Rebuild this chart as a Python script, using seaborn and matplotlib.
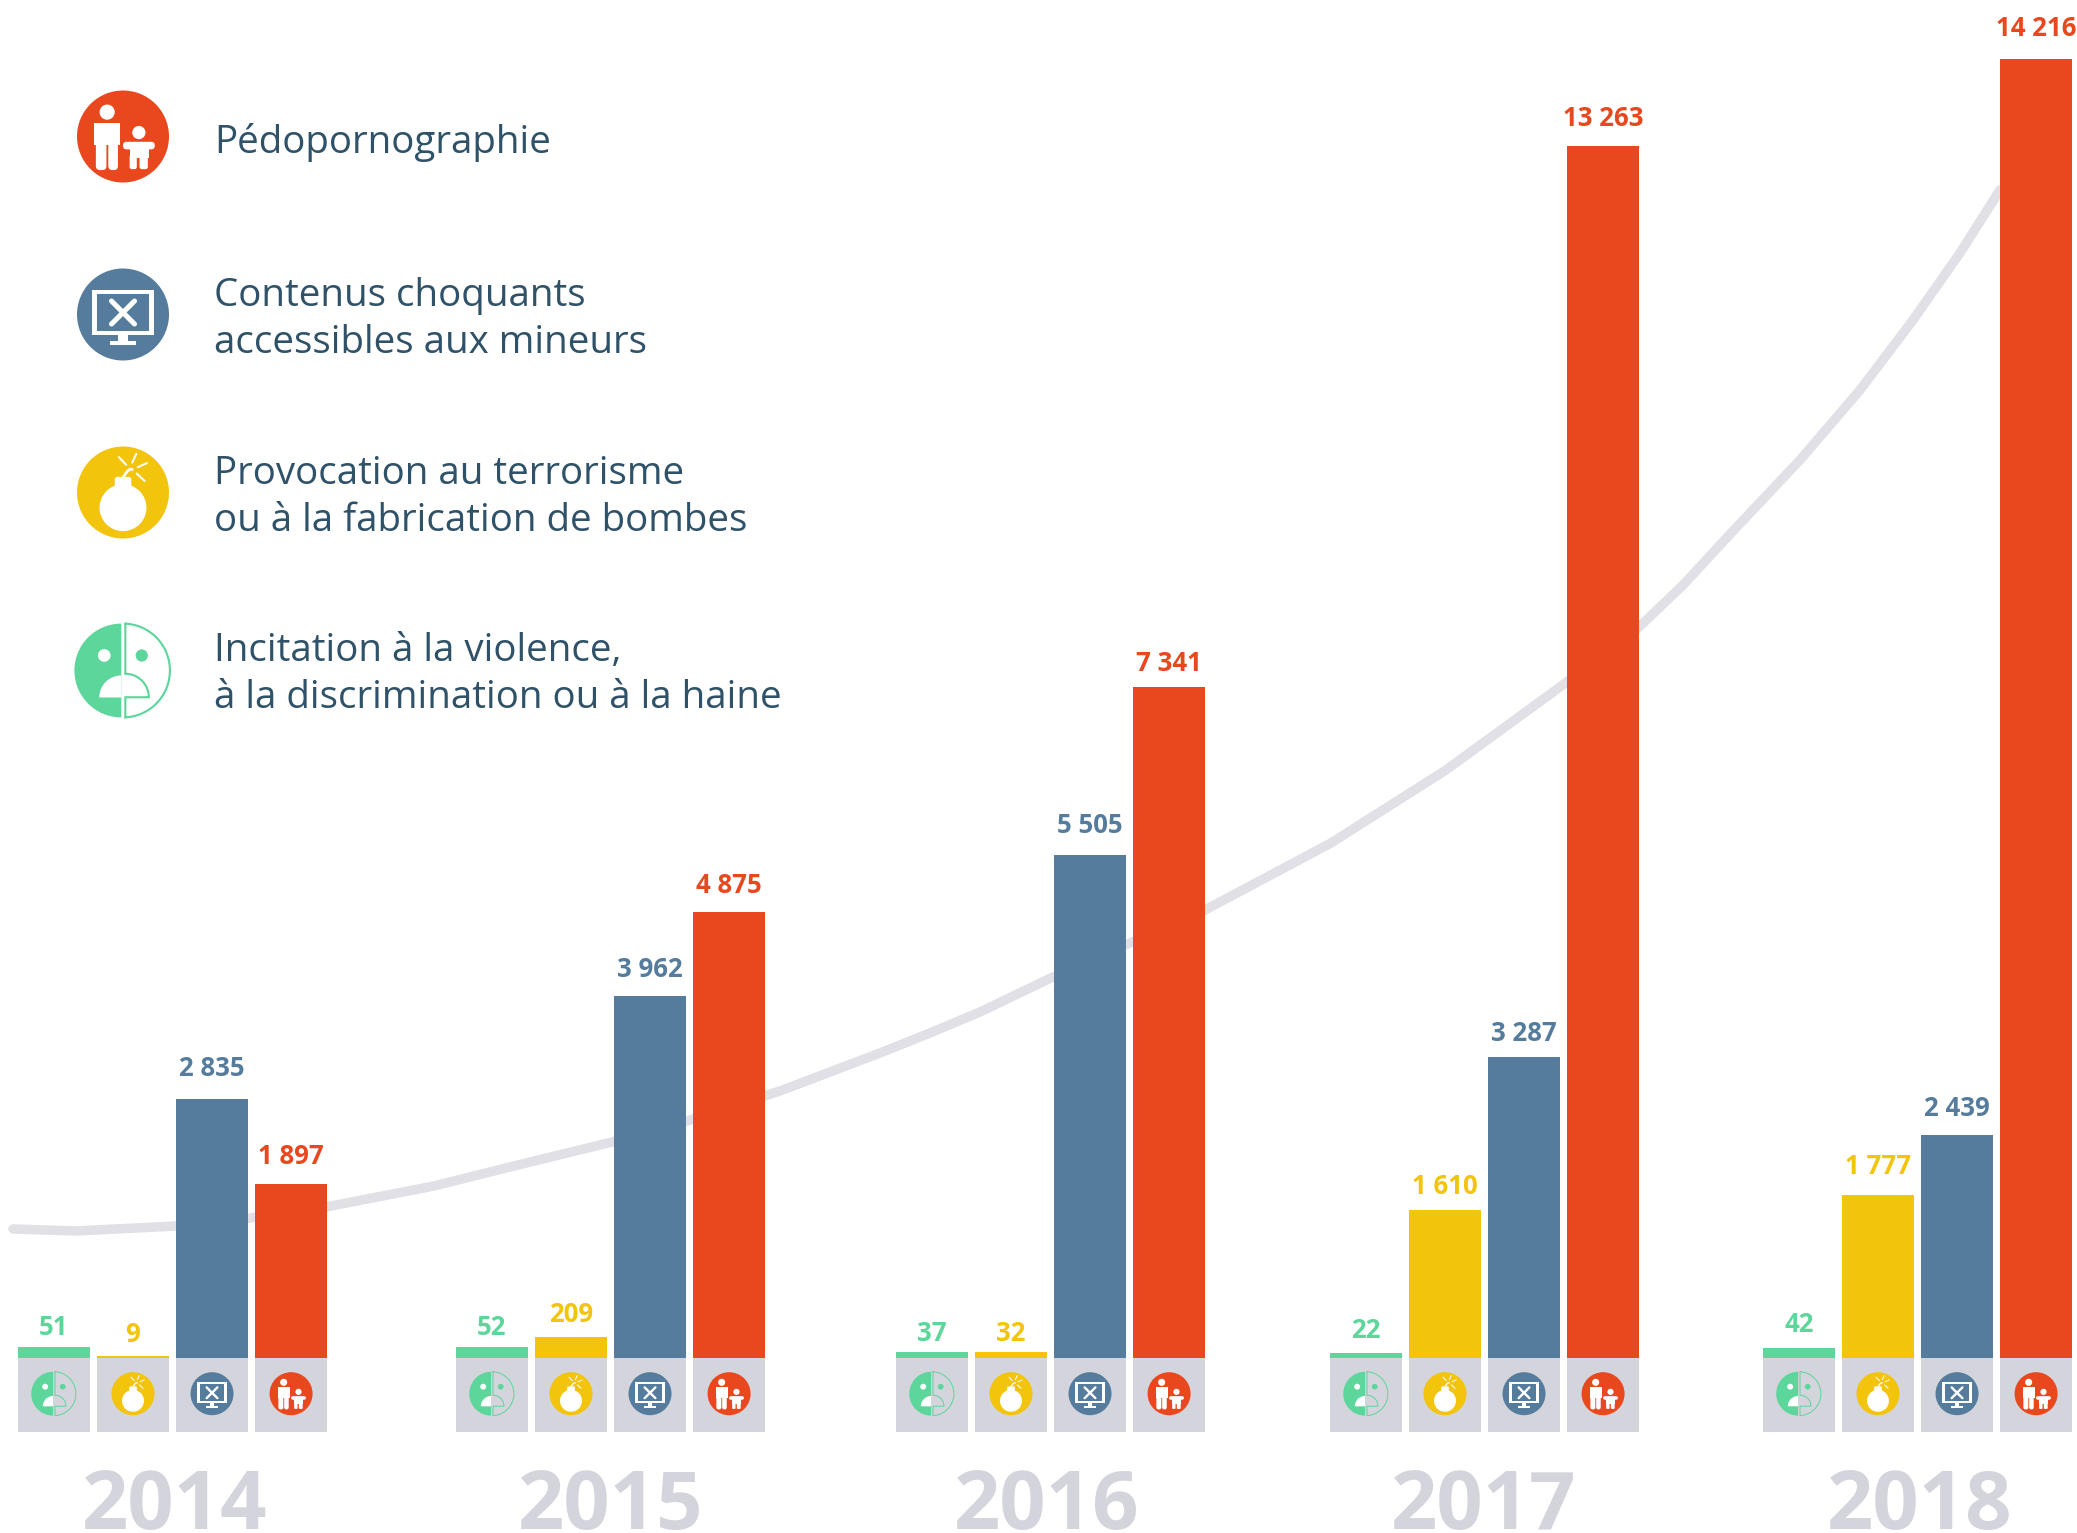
import numpy as np
import pandas as pd
import matplotlib
matplotlib.use("Agg")
import matplotlib.pyplot as plt
from matplotlib.patches import Circle, Rectangle, FancyBboxPatch, Wedge
import seaborn as sns

years = ["2014", "2015", "2016", "2017", "2018"]
categories = ["violence", "terrorisme", "choquants", "pedo"]

# values printed above the bars
violence = [51, 52, 37, 22, 42]
terrorisme = [9, 209, 32, 1610, 1777]
choquants = [2835, 3962, 5505, 3287, 2439]
pedo = [1897, 4875, 7341, 13263, 14216]

# the source draws its tiniest bars taller than their value, heights
violence_drawn = [115, 115, 60, 50, 105]
terrorisme_drawn = [20, 225, 60, 1610, 1777]

# grey trend curve behind the bars (group position, value)
curve_x = [-0.3656, -0.2212, 0.0080, 0.1777, 0.3519, 0.5994, 0.7736, 1.0075, 1.1862, 1.3926,
           1.5072, 1.6218, 1.7364, 1.8510, 1.9656, 2.0183, 2.1949, 2.3668, 2.6556, 2.9192,
           3.1805, 3.3616, 3.4625, 3.5771, 3.7307, 3.8682, 3.9897, 4.0974, 4.1891]
curve_y = [1407, 1385, 1440, 1527, 1648, 1878, 2086, 2359, 2600, 2918,
           3126, 3334, 3553, 3783, 4045, 4166, 4538, 4899, 5633, 6432,
           7341, 7997, 8457, 9049, 9826, 10592, 11359, 12092, 12782]

legend_labels = ["Pédopornographie",
                 "Contenus choquants\naccessibles aux mineurs",
                 "Provocation au terrorisme\nou à la fabrication de bombes",
                 "Incitation à la violence,\nà la discrimination ou à la haine"]
legend_icons = ["pedo", "choquants", "terrorisme", "violence"]

colors = {"violence": "#5CD69A", "terrorisme": "#F2C40B",
          "choquants": "#557C9C", "pedo": "#E9471E"}
TILE = "#D4D4DC"
CURVE = "#E0E0E6"
TEXT = "#2F5269"

W, H = 2077, 1533
BASE_PX = 1357.5
PX_PER_UNIT = 0.09134
GROUP_STEP = 436.25
FIRST_GROUP = 172.5
FONT = "Open Sans"

# small layout corrections, in pixels
group_nudge = [0, 1.75, 5.5, 3.25, 0]
label_gaps = {"violence": [12, 12, 11, 15, 16],
              "terrorisme": [13.5, 15, 11, 16, 21.5],
              "choquants": [23, 19, 21.5, 16, 19],
              "pedo": [20, 19, 16, 20, 23]}
legend_centres = [136.5, 314.5, 492.5, 670.5]
legend_baselines = [153, 353, 531, 708]


def px(n):
    return n * 0.72


def stroke(ov, xs, ys, color, lw, cap="round"):
    ov.plot(xs, ys, color=color, lw=lw, solid_capstyle=cap, solid_joinstyle="round")


def icon_pedo(ov, cx, cy, r):
    c = colors["pedo"]
    ov.add_patch(Circle((cx, cy), r, color=c, lw=0))
    w = "white"
    ov.add_patch(Circle((cx - .345 * r, cy - .53 * r), .165 * r, color=w, lw=0))
    ov.add_patch(Rectangle((cx - .62 * r, cy - .30 * r), .56 * r, .49 * r, color=w, lw=0))
    for a, b in [(-.59, -.36), (-.32, -.11)]:
        ov.add_patch(FancyBboxPatch((cx + a * r, cy + .1 * r), (b - a) * r, .63 * r,
                                    boxstyle=f"round,pad=0,rounding_size={.09 * r}", color=w, lw=0))
    ov.add_patch(Circle((cx + .345 * r, cy - .086 * r), .144 * r, color=w, lw=0))
    ov.add_patch(FancyBboxPatch((cx, cy + .115 * r), .69 * r, .165 * r,
                                boxstyle=f"round,pad=0,rounding_size={.08 * r}", color=w, lw=0))
    ov.add_patch(Rectangle((cx + .144 * r, cy + .25 * r), .416 * r, .22 * r, color=w, lw=0))
    for a, b in [(.144, .30), (.36, .54)]:
        ov.add_patch(FancyBboxPatch((cx + a * r, cy + .4 * r), (b - a) * r, .31 * r,
                                    boxstyle=f"round,pad=0,rounding_size={.05 * r}", color=w, lw=0))


def icon_choquants(ov, cx, cy, r):
    c = colors["choquants"]
    ov.add_patch(Circle((cx, cy), r, color=c, lw=0))
    w = "white"
    ov.add_patch(Rectangle((cx - .676 * r, cy - .54 * r), 1.352 * r, .99 * r, color=w, lw=0))
    ov.add_patch(Rectangle((cx - .568 * r, cy - .44 * r), 1.136 * r, .79 * r, color=c, lw=0))
    ov.add_patch(Rectangle((cx - .11 * r, cy + .45 * r), .22 * r, .13 * r, color=w, lw=0))
    ov.add_patch(Rectangle((cx - .28 * r, cy + .575 * r), .56 * r, .09 * r, color=w, lw=0))
    d = .25 * r
    y0 = cy - .043 * r
    stroke(ov, [cx - d, cx + d], [y0 - d, y0 + d], w, px(.11 * r))
    stroke(ov, [cx - d, cx + d], [y0 + d, y0 - d], w, px(.11 * r))


def icon_terrorisme(ov, cx, cy, r):
    c = colors["terrorisme"]
    ov.add_patch(Circle((cx, cy), r, color=c, lw=0))
    w = "white"
    ov.add_patch(Circle((cx, cy + .33 * r), .51 * r, color=w, lw=0))
    ov.add_patch(FancyBboxPatch((cx - .18 * r, cy - .34 * r), .36 * r, .4 * r,
                                boxstyle=f"round,pad=0,rounding_size={.06 * r}", color=w, lw=0))
    lw = px(.045 * r)
    t = np.linspace(0, 1, 12)
    stroke(ov, cx + r * (.01 + .19 * t), cy + r * (-.34 - .24 * np.sin(t * np.pi / 2) + .08 * t), w, px(.06 * r))
    for (x0, y0, x1, y1) in [(-.09, -.77, .07, -.6), (.29, -.84, .2, -.65),
                             (.52, -.64, .32, -.55), (.47, -.25, .3, -.41)]:
        stroke(ov, [cx + x0 * r, cx + x1 * r], [cy + y0 * r, cy + y1 * r], w, lw)


def icon_violence(ov, cx, cy, r):
    c = colors["violence"]
    r = r * 1.02
    ov.add_patch(Wedge((cx - .036 * r, cy), r, 90, 270, color=c, lw=0))
    ov.add_patch(Circle((cx - .40 * r, cy - .32 * r), .135 * r, color="white", lw=0))
    ov.add_patch(Wedge((cx - .036 * r, cy + .575 * r), .47 * r, 180, 270, color="white", lw=0))
    ov.add_patch(Circle((cx + .40 * r, cy - .32 * r), .13 * r, color=c, lw=0))
    t = np.radians(np.linspace(-90, 0, 30))
    xs = [cx + .05 * r, cx + .05 * r] + list(cx + .05 * r + .5 * r * np.cos(t + 0))
    ys = [cy - r, cy + .07 * r] + list(cy + .57 * r + .5 * r * np.sin(t))
    xs += [cx + .05 * r, cx + .05 * r]
    ys += [cy + .57 * r, cy + r]
    t = np.radians(np.linspace(87, -87, 60))
    xs += list(cx + r * np.cos(t))
    ys += list(cy + r * np.sin(t))
    xs += [cx + .05 * r]
    ys += [cy - r]
    ov.plot(xs, ys, color=c, lw=px(.045 * r), solid_joinstyle="miter")


ICONS = {"pedo": icon_pedo, "choquants": icon_choquants,
         "terrorisme": icon_terrorisme, "violence": icon_violence}


def build_table():
    """Long table for seaborn"""
    drawn = {"violence": violence_drawn, "terrorisme": terrorisme_drawn,
             "choquants": choquants, "pedo": pedo}
    shown = {"violence": violence, "terrorisme": terrorisme,
             "choquants": choquants, "pedo": pedo}
    rows = []
    for cat in categories:
        for i, year in enumerate(years):
            rows.append({"year": year, "category": cat,
                         "height": drawn[cat][i], "value": shown[cat][i]})
    return pd.DataFrame(rows)


def main():
    sns.set_theme(style="white")
    plt.rcParams["font.family"] = [FONT, "DejaVu Sans"]

    df = build_table()
    fig = plt.figure(figsize=(W / 100, H / 100), dpi=100, facecolor="white")
    ax = fig.add_axes([0, 0, 1, 1])
    sns.barplot(data=df, x="year", y="height", hue="category", order=years,
                hue_order=categories, palette=colors, width=0.7248, gap=0.0886,
                saturation=1, errorbar=None, legend=False, linewidth=0, ax=ax)
    ax.set_xlim(-FIRST_GROUP / GROUP_STEP, (W - FIRST_GROUP) / GROUP_STEP)
    ax.set_ylim((BASE_PX - H) / PX_PER_UNIT, BASE_PX / PX_PER_UNIT)

    sns.lineplot(x=curve_x, y=curve_y, sort=False, color=CURVE, linewidth=px(9.5),
                 zorder=0.5, ax=ax, solid_capstyle="round", solid_joinstyle="round")

    ov = fig.add_axes([0, 0, 1, 1], zorder=5)
    ov.patch.set_alpha(0)
    ov.set_xlim(0, W)
    ov.set_ylim(H, 0)
    ov.set_axis_off()

    tile_units = 74.5 / PX_PER_UNIT
    for cat, cont in zip(categories, ax.containers):
        sub = df[df["category"] == cat]
        for i, (bar, (_, row)) in enumerate(zip(cont, sub.iterrows())):
            bar.set_x(bar.get_x() + group_nudge[i] / GROUP_STEP)
            ax.bar(bar.get_x(), -tile_units, width=bar.get_width(), align="edge",
                   color=TILE, linewidth=0)
            mid = bar.get_x() + bar.get_width() / 2
            ax.annotate(f"{row['value']:,}".replace(",", " "), (mid, row["height"]),
                        xytext=(0, px(label_gaps[cat][i])), textcoords="offset points", ha="center",
                        va="baseline", color=colors[cat], fontsize=18.5, fontweight="bold")
            cx = ax.transData.transform((mid, 0))[0]
            ICONS[cat](ov, cx, 1393.7, 21.5)

    for i, year in enumerate(years):
        ax.annotate(year, (i, 0), xytext=(px(2), -px(1529 - BASE_PX)), textcoords="offset points",
                    ha="center", va="baseline", color=TILE, fontsize=58.5, fontweight="bold",
                    annotation_clip=False)

    for kind, label, cy, base in zip(legend_icons, legend_labels, legend_centres, legend_baselines):
        ICONS[kind](ov, 123, cy, 46)
        ov.text(214.5, base, label, color=TEXT, fontsize=27.7, va="baseline", ha="left",
                linespacing=1.32)

    ov.set_xlim(0, W)
    ov.set_ylim(H, 0)
    ax.set_axis_off()
    fig.savefig("out.png", dpi=100)


if __name__ == "__main__":
    main()
